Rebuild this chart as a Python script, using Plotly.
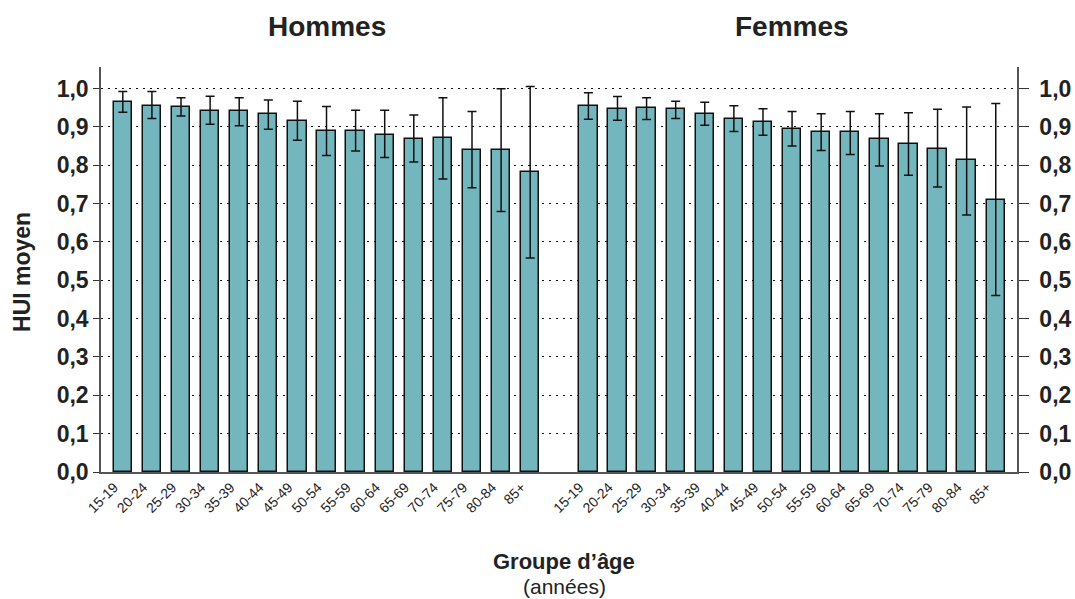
import plotly.graph_objects as go

age_groups = ["15-19", "20-24", "25-29", "30-34", "35-39", "40-44", "45-49",
              "50-54", "55-59", "60-64", "65-69", "70-74", "75-79", "80-84", "85+"]

men_hui = [0.964, 0.955, 0.952, 0.942, 0.940, 0.934, 0.915,
           0.888, 0.888, 0.880, 0.867, 0.871, 0.840, 0.840, 0.782]
men_upper = [0.992, 0.992, 0.976, 0.980, 0.976, 0.970, 0.967,
             0.953, 0.943, 0.943, 0.931, 0.976, 0.940, 0.999, 1.005]
men_lower = [0.938, 0.922, 0.928, 0.907, 0.903, 0.894, 0.865,
             0.825, 0.837, 0.820, 0.808, 0.764, 0.741, 0.679, 0.558]

women_hui = [0.955, 0.946, 0.949, 0.946, 0.934, 0.921, 0.913,
             0.894, 0.886, 0.886, 0.867, 0.856, 0.843, 0.814, 0.710]
women_upper = [0.989, 0.979, 0.976, 0.967, 0.964, 0.955, 0.947,
               0.940, 0.934, 0.940, 0.934, 0.937, 0.946, 0.952, 0.961]
women_lower = [0.920, 0.917, 0.919, 0.922, 0.904, 0.888, 0.878,
               0.850, 0.838, 0.828, 0.798, 0.774, 0.743, 0.670, 0.460]

y_ticks = [i / 10 for i in range(11)]
y_tick_text = [f"{v:.1f}".replace(".", ",") for v in y_ticks]

n = len(age_groups)
men_x = list(range(n))
women_x = [n + 1 + i for i in range(n)]

BAR = "#74B6BD"
TXT = "#222222"
FONT = "Liberation Sans, Arial, sans-serif"

fig = go.Figure()

def add_group(xs, vals, up, lo):
    fig.add_trace(go.Bar(
        x=xs, y=vals, width=0.63,
        marker=dict(color=BAR, line=dict(color="#111111", width=1.5)),
        error_y=dict(type="data", symmetric=False,
                     array=[u - v for u, v in zip(up, vals)],
                     arrayminus=[v - l for v, l in zip(vals, lo)],
                     color="#111111", thickness=1.5, width=4.5),
        showlegend=False, hoverinfo="skip",
    ))

add_group(men_x, men_hui, men_upper, men_lower)
add_group(women_x, women_hui, women_upper, women_lower)

# invisible trace so the right-hand axis is drawn
fig.add_trace(go.Scatter(x=[men_x[0]], y=[0], yaxis="y2", mode="markers",
                         marker=dict(opacity=0), showlegend=False, hoverinfo="skip"))

top = 1.056
fig.update_layout(
    width=1075, height=599,
    margin=dict(l=101, r=58, t=67, b=127, autoexpand=False),
    paper_bgcolor="white", plot_bgcolor="white",
    font=dict(family=FONT, color=TXT),
    bargap=0,
    xaxis=dict(
        range=[-0.75, women_x[-1] + 0.73],
        tickvals=[x - 0.3 for x in men_x + women_x],
        ticktext=age_groups + age_groups,
        tickangle=-45,
        tickfont=dict(size=14, family=FONT, color=TXT),
        ticks="", showgrid=False, zeroline=False,
        showline=True, linecolor="#555555", linewidth=1.5,
    ),
    yaxis=dict(
        range=[0, top],
        tickvals=y_ticks, ticktext=y_tick_text,
        tickfont=dict(size=23, family=FONT, color=TXT, weight="bold"),
        ticks="outside", ticklen=6, tickcolor="#333333", tickwidth=1.2,
        showline=True, linecolor="#555555", linewidth=1.5,
        showgrid=True, gridcolor="#111111", griddash="2px,5px", gridwidth=1.3,
        zeroline=False,
    ),
    yaxis2=dict(
        range=[0, top], overlaying="y", side="right",
        tickvals=y_ticks, ticktext=y_tick_text,
        tickfont=dict(size=23, family=FONT, color=TXT, weight="bold"),
        ticks="outside", ticklen=10, tickcolor="#333333", tickwidth=1.2,
        ticklabelstandoff=6,
        showline=True, linecolor="#555555", linewidth=1.5,
        showgrid=False, zeroline=False,
    ),
    annotations=[
        dict(text="<b>Hommes</b>", x=(men_x[0] + men_x[-1]) / 2, xref="x",
             y=1.0988, yref="paper", yanchor="middle", showarrow=False,
             font=dict(size=28, family=FONT, color=TXT)),
        dict(text="<b>Femmes</b>", x=(women_x[0] + women_x[-1]) / 2, xref="x",
             y=1.0988, yref="paper", yanchor="middle", showarrow=False,
             font=dict(size=28, family=FONT, color=TXT)),
        dict(text="<b>HUI moyen</b>", x=-0.0862, xref="paper", y=0.494, yref="paper",
             textangle=-90, xanchor="center", yanchor="middle", showarrow=False,
             font=dict(size=23, family=FONT, color=TXT)),
        dict(text="<b>Groupe d’âge</b>", x=0.5055, xref="paper", y=-0.2222, yref="paper",
             xanchor="center", yanchor="middle", showarrow=False,
             font=dict(size=22, family=FONT, color=TXT)),
        dict(text="(années)", x=0.5055, xref="paper", y=-0.2815, yref="paper",
             xanchor="center", yanchor="middle", showarrow=False,
             font=dict(size=21, family=FONT, color=TXT)),
    ],
)

fig.write_html("out.html", config={"displayModeBar": False},
               post_script="document.body.style.margin='0';document.body.style.overflow='hidden';")
